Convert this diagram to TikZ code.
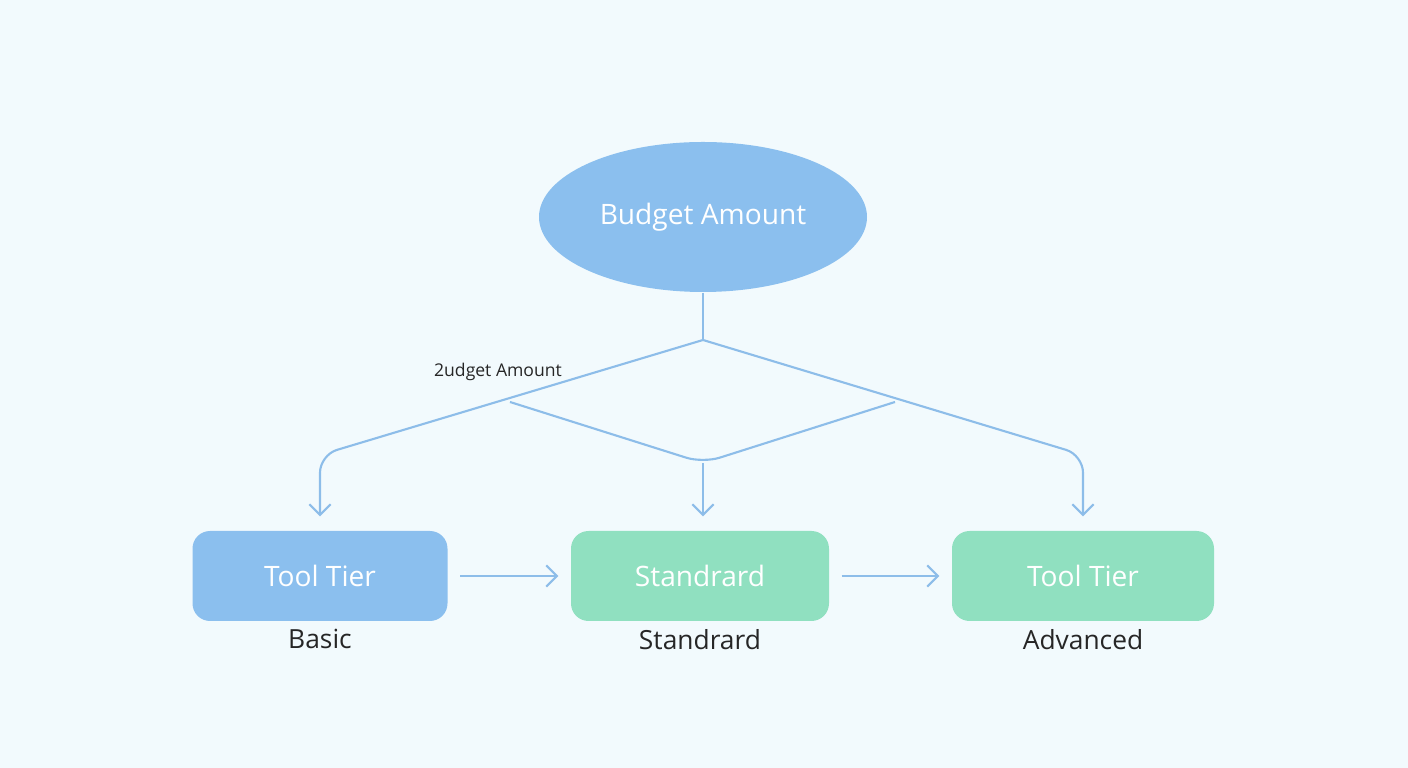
\documentclass[tikz,border=0pt]{standalone}
\usepackage{fontspec}
\setmainfont{Open Sans}
\usetikzlibrary{shapes.geometric, positioning, arrows.meta}
\definecolor{skyblue}{HTML}{8BBFEE}
\definecolor{mint}{HTML}{90E0C0}
\definecolor{paper}{HTML}{F2FAFD}
\definecolor{wire}{HTML}{8DBDE9}
\tikzstyle{budget} = [ellipse, minimum width=3.28cm, minimum height=1.5cm, inner sep=0pt, fill=skyblue, text=white, font=\fontsize{8}{9}\selectfont]
\tikzstyle{tier} = [rectangle, rounded corners=5pt, minimum width=2.55cm, minimum height=0.9cm, text=white, font=\fontsize{8}{9}\selectfont]
\tikzstyle{caption} = [font=\fontsize{7.5}{9}\selectfont, text=black!85]
\tikzstyle{aro} = [-{Straight Barb[length=3pt,width=6pt]}, wire, line width=0.6pt]

\begin{document}
\begin{tikzpicture}[x=1cm,y=1cm]
  \fill[paper] (0,0) rectangle (14.08,7.68);
  \useasboundingbox (0,0) rectangle (14.08,7.68);

  \node (budget) [budget] at (7.03,5.51) {Budget Amount};

  \node (basic) [tier, fill=skyblue] at (3.20,1.92) {Tool Tier};
  \node (std) [tier, fill=mint, minimum width=2.58cm] at (7.00,1.92) {Standrard};
  \node (adv) [tier, fill=mint, minimum width=2.62cm] at (10.83,1.92) {Tool Tier};

  \node[caption, below=-0.05cm of basic] {Basic};
  \node[caption, below=-0.05cm of std] {Standrard};
  \node[caption, below=-0.05cm of adv] {Advanced};

  \coordinate (split) at (7.03,4.28);
  \coordinate (lj) at (5.10,3.66);
  \coordinate (rj) at (8.95,3.66);
  \coordinate (mj) at (7.03,3.05);
  \coordinate (lbend) at (3.20,3.13);
  \coordinate (rbend) at (10.83,3.13);

  \draw[wire, line width=0.6pt] (budget.south) -- (split);
  \draw[aro, rounded corners=5pt, shorten >=0.14cm] (split) -- (lbend) -- (basic.north);
  \draw[aro, rounded corners=5pt, shorten >=0.14cm] (split) -- (rbend) -- (adv.north);
  \draw[wire, line width=0.6pt, rounded corners=5pt] (lj) -- (mj) -- (rj);
  \draw[aro, shorten >=0.14cm] (mj) -- (std.north -| mj);

  \node (lbl) [font=\fontsize{5}{6}\selectfont, text=black!85] at (4.98,3.96) {2udget Amount};

  \draw[aro, shorten <=0.12cm, shorten >=0.12cm] (basic.east) -- (std.west);
  \draw[aro, shorten <=0.12cm, shorten >=0.12cm] (std.east) -- (adv.west);
\end{tikzpicture}
\end{document}
